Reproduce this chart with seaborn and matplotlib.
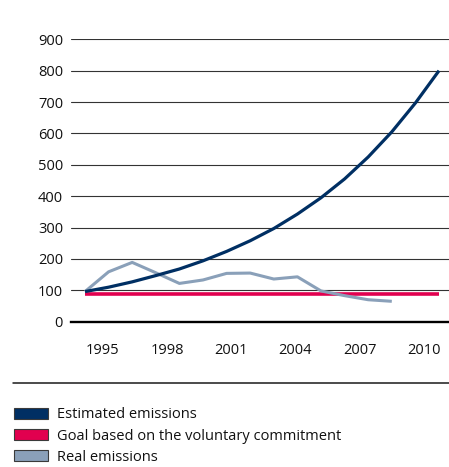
import matplotlib
matplotlib.use("Agg")
import matplotlib.pyplot as plt
from matplotlib.patches import Patch
from matplotlib.lines import Line2D
import seaborn as sns
import pandas as pd

# Annual values, 1995-2010
years = list(range(1995, 2011))
estimated = [96, 110, 127, 147, 168, 194, 224, 258, 297, 343, 395, 455, 525, 605, 697, 800]
goal = [88] * 16
real_years = list(range(1995, 2009))
real = [96, 159, 189, 156, 122, 133, 154, 155, 136, 143, 98, 83, 70, 65]

tick_years = [1995, 1998, 2001, 2004, 2007, 2010]
y_ticks = [0, 100, 200, 300, 400, 500, 600, 700, 800, 900]

series_names = ["Estimated emissions", "Goal based on the voluntary commitment", "Real emissions"]
colors = {"Estimated emissions": "#002f63",
          "Goal based on the voluntary commitment": "#e1004f",
          "Real emissions": "#8aa0b9"}

sns.set_style("white")
plt.rcParams["font.family"] = ["Open Sans", "DejaVu Sans"]
plt.rcParams["font.size"] = 10.5
text_color = "#111111"

W, H = 449, 467
fig = plt.figure(figsize=(W / 100, H / 100), dpi=100)
ax = fig.add_axes([70.7 / W, 1 - 321.7 / H, (W - 70.7) / W, (321.7 - 39.3) / H])

df_goal = pd.DataFrame({"year": years, "value": goal})
df_est = pd.DataFrame({"year": years, "value": estimated})
df_real = pd.DataFrame({"year": real_years, "value": real})

sns.lineplot(data=df_goal, x="year", y="value", ax=ax, color=colors[series_names[1]],
             linewidth=2.6, zorder=3, solid_capstyle="butt")
sns.lineplot(data=df_real, x="year", y="value", ax=ax, color=colors[series_names[2]],
             linewidth=2.2, zorder=4, solid_capstyle="butt")
sns.lineplot(data=df_est, x="year", y="value", ax=ax, color=colors[series_names[0]],
             linewidth=2.3, zorder=5, solid_capstyle="butt")

# data axis: one year per step
ax.set_xlim(1995 - 14.3 / 23.6, 2010 + 10 / 23.6)
ax.set_ylim(0, 900)
ax.set_yticks(y_ticks)
ax.set_xticks([])
ax.set_xlabel("")
ax.set_ylabel("")
ax.grid(axis="y", color="#333333", linewidth=0.8, zorder=1)
ax.grid(axis="x", visible=False)
ax.set_axisbelow(True)
for side in ["top", "right", "left"]:
    ax.spines[side].set_visible(False)
ax.spines["bottom"].set_color("black")
ax.spines["bottom"].set_linewidth(1.7)
ax.tick_params(axis="y", length=0, pad=5.5, labelsize=10.5, colors=text_color)

# period axis carrying the year labels (three-year bands)
lab = ax.twiny()
lab.set_xlim(1993.5, 1993.5 + (W - 70.7) / 21.4)
lab.xaxis.set_ticks_position("bottom")
lab.xaxis.set_label_position("bottom")
lab.set_xticks(tick_years)
lab.set_xticklabels([str(y) for y in tick_years])
lab.tick_params(axis="x", length=0, pad=15, labelsize=10.5, colors=text_color)
for s in lab.spines.values():
    s.set_visible(False)

# separator rule above the legend
fig.add_artist(Line2D([13 / W, 1.0], [1 - 383.3 / H, 1 - 383.3 / H],
                      transform=fig.transFigure, color="#1a1a1a", linewidth=1.1))

handles = [Patch(facecolor=colors[n], edgecolor="#3a3a3a", linewidth=0.8) for n in series_names]
leg = fig.legend(handles, series_names, loc="upper left",
                 bbox_to_anchor=(13.7 / W, 1 - 407.5 / H), bbox_transform=fig.transFigure,
                 frameon=False, fontsize=10.5, handlelength=2.35, handleheight=0.75,
                 handletextpad=0.6, labelspacing=0.42, borderpad=0, borderaxespad=0)
for t in leg.get_texts():
    t.set_color(text_color)

fig.savefig("out.png", dpi=100)
